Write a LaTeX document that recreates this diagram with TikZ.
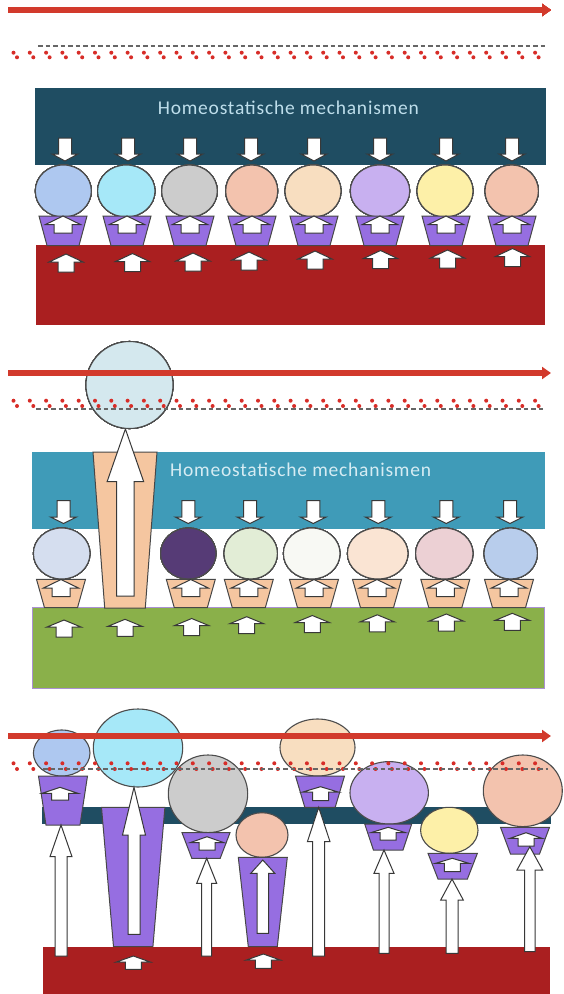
\documentclass[tikz,border=0pt]{standalone}
\usepackage{fontspec}
\newfontfamily\carlito{Carlito}[LetterSpace=4.0]
\usepackage{tikz}
\usetikzlibrary{arrows.meta}

\definecolor{deepteal}{RGB}{31,77,98}
\definecolor{lightteal}{RGB}{63,155,184}
\definecolor{boxred}{RGB}{170,31,32}
\definecolor{arrowred}{RGB}{210,58,44}
\definecolor{dotred}{RGB}{215,45,40}
\definecolor{potpurple}{RGB}{150,110,225}
\definecolor{potpeach}{RGB}{245,198,160}
\definecolor{grassgreen}{RGB}{138,176,74}
\definecolor{lilac}{RGB}{170,145,210}
\definecolor{ballblue}{RGB}{174,200,240}
\definecolor{ballcyan}{RGB}{166,232,248}
\definecolor{ballgray}{RGB}{204,204,204}
\definecolor{ballsalmon}{RGB}{243,195,174}
\definecolor{ballpeach}{RGB}{248,222,192}
\definecolor{balllav}{RGB}{200,176,240}
\definecolor{ballyellow}{RGB}{253,240,168}
\definecolor{bigblue}{RGB}{212,232,238}
\definecolor{paleblue}{RGB}{213,222,239}
\definecolor{darkplum}{RGB}{86,59,118}
\definecolor{palegreen}{RGB}{226,237,214}
\definecolor{offwhite}{RGB}{248,249,244}
\definecolor{palepeach}{RGB}{250,228,211}
\definecolor{palerose}{RGB}{236,208,212}
\definecolor{softblue}{RGB}{184,205,236}
\definecolor{textA}{RGB}{190,222,235}
\definecolor{textB}{RGB}{214,236,243}

% block arrows: x, y tip, y base, half shaft, half head, head length
\newcommand{\uparr}[6]{\draw[blockarr] (#1-#4,#3) -- (#1-#4,#2+#6) -- (#1-#5,#2+#6) -- (#1,#2) -- (#1+#5,#2+#6) -- (#1+#4,#2+#6) -- (#1+#4,#3) -- cycle;}
\newcommand{\downarr}[6]{\draw[blockarr] (#1-#4,#2) -- (#1-#4,#3-#6) -- (#1-#5,#3-#6) -- (#1,#3) -- (#1+#5,#3-#6) -- (#1+#4,#3-#6) -- (#1+#4,#2) -- cycle;}
% pot: x, y top, y bottom, half top, half bottom, colour
\newcommand{\pot}[6]{\draw[potline, fill=#6] (#1-#4,#2) -- (#1+#4,#2) -- (#1+#5,#3) -- (#1-#5,#3) -- cycle;}

\begin{document}
\begin{tikzpicture}[x=1pt,y=-1pt,
  blockarr/.style={draw=black!78, fill=white, line width=1pt, line join=miter},
  potline/.style={draw=black!72, line width=1pt},
  ball/.style={draw=black!70, line width=1.1pt},
  redline/.style={arrowred, line width=5.5pt, -{Triangle[length=9pt,width=12pt]}},
  graydash/.style={black!60, line width=2pt, dash pattern=on 4.5pt off 3pt},
  reddots/.style={dotred, line width=4pt, line cap=round, dash pattern=on 0pt off 16.3pt},
  homeo/.style={font=\carlito\fontsize{19.5}{22}\selectfont, anchor=base west, inner sep=0pt}]
\useasboundingbox (0,0) rectangle (564,994);

% ==================== PANEL 1: BALANCE ====================
\fill[deepteal] (35,87.5) rectangle (545.5,164.5);
\node[homeo, textA] (homeoA) at (157.7,114.3) {Homeostatische mechanismen};
\fill[boxred] (35.5,245) rectangle (545,325);
% pressure from above
\foreach \x in {65,128,190,251,314,380,446,512}
  \downarr{\x}{138}{161}{6.5}{13}{7}
% balls
\foreach \x/\rx/\col in {63.3/28/ballblue, 126.3/28.7/ballcyan, 189.5/27.8/ballgray, 251.7/26/ballsalmon,
    313/28/ballpeach, 380/29.7/balllav, 445/28/ballyellow, 511.7/26.7/ballsalmon}
  \draw[ball, fill=\col] (\x,191) ellipse [x radius=\rx pt, y radius=26pt];
% pots with push
\foreach \x in {63,127,190,252,314,380,446,512} {
  \pot{\x}{216}{245.5}{24}{16}{potpurple}
  \uparr{\x}{216}{233}{9}{17.5}{8.5}
}
% push from below
\foreach \x/\t in {66/254, 132.5/253.5, 193/253, 249/252, 315/251, 380.5/250.5, 447.5/250, 512.5/248.5}
  \uparr{\x}{\t}{\t+18}{8}{17}{8}
% lines
\draw[redline] (8,10) -- (551,10);
\draw[graydash] (38,46) -- (545,46);
\draw[reddots] (13.5,52.7) -- (548,52.7);
\draw[reddots] (17,57.3) -- (548,57.3);

% ==================== PANEL 2: ONE OUTLIER ====================
\fill[lightteal] (31.7,451.7) rectangle (544.7,529.3);
\node[homeo, textB] (homeoB) at (170,476) {Homeostatische mechanismen};
\filldraw[fill=grassgreen, draw=lilac, line width=1pt] (32.3,607) rectangle (544.3,688.3);
% tall pot
\pot{125}{452}{608}{32}{20.3}{potpeach}
\uparr{125.4}{429}{596}{8.7}{18.3}{52.7}
\foreach \x in {63.5,188.3,250,313.3,378.3,446.3,510}
  \downarr{\x}{500.7}{523.5}{6.5}{13}{6.5}
\foreach \x/\rx/\col in {61.7/28.3/paleblue, 188.3/27.7/darkplum, 250.7/26.7/palegreen, 311.7/28.3/offwhite,
    377.7/30.3/palepeach, 444.3/28.7/palerose, 510.7/26.7/softblue}
  \draw[ball, fill=\col] (\x,553.5) ellipse [x radius=\rx pt, y radius=25.5pt];
\foreach \x in {61,190.8,248.8,314,377,445.3,509} {
  \pot{\x}{579.3}{607.7}{24.5}{16.5}{potpeach}
  \uparr{\x}{579.5}{596.5}{9}{17.5}{8.5}
}
\foreach \x/\t in {64/620, 125/619.3, 191.7/618.5, 246.7/616.7, 312.3/615.5, 377.3/614.8, 446.3/614, 512.3/613.3}
  \uparr{\x}{\t}{\t+17}{8}{17}{7}
\draw[ball, fill=bigblue] (129.5,385) circle [radius=43.5pt];
\draw[redline] (8,373) -- (551,373);
\draw[reddots] (13.5,400.7) -- (548,400.7);
\draw[reddots] (17,406) -- (548,406);
\draw[graydash] (36,409) -- (543,409);

% ==================== PANEL 3: ALL OVER THE PLACE ====================
\fill[deepteal] (41.7,806.7) rectangle (550.7,824);
\fill[boxred] (43.3,946.7) rectangle (550,994);
% 1
\draw[ball, fill=ballblue] (61.7,753) ellipse [x radius=28.3pt, y radius=23pt];
\pot{63}{776}{825}{24.5}{17}{potpurple}
\uparr{60}{787.3}{800}{8.5}{18}{6}
\uparr{61}{825}{956}{6}{11}{31.7}
% 2
\draw[ball, fill=ballcyan] (138,748) ellipse [x radius=44.7pt, y radius=39pt];
\pot{133.2}{807.3}{946.7}{31.7}{19.7}{potpurple}
\uparr{134}{787.3}{934.3}{6}{11.5}{47.7}
\uparr{133.3}{956}{969.3}{8}{17}{6}
% 3
\draw[ball, fill=ballgray] (208,793.8) ellipse [x radius=39.7pt, y radius=38.8pt];
\pot{206}{832.7}{858.3}{24}{14.2}{potpurple}
\uparr{207}{836.7}{850}{8}{17}{6}
\uparr{206.7}{858.3}{956}{5}{10}{25}
% 4
\draw[ball, fill=ballsalmon] (262,835) ellipse [x radius=26pt, y radius=22.3pt];
\pot{262.8}{857.3}{946.7}{24.5}{14.5}{potpurple}
\uparr{262.8}{860}{933.3}{5.8}{12}{13.3}
\uparr{263.3}{954}{968.3}{8}{17}{6}
% 5
\draw[ball, fill=ballpeach] (317.5,747.5) ellipse [x radius=37.5pt, y radius=28.5pt];
\pot{320}{776}{807.3}{24.5}{15.2}{potpurple}
\uparr{320.5}{786.7}{800.7}{8}{18.3}{5.5}
\uparr{318.7}{807.3}{956}{6}{11.3}{34.4}
% 6
\draw[ball, fill=balllav] (389.2,792.8) ellipse [x radius=39.2pt, y radius=31.2pt];
\pot{388.2}{824}{850}{23.5}{14.8}{potpurple}
\uparr{388.2}{827.3}{840}{8}{17.5}{5.4}
\uparr{384}{850}{953.3}{5}{10}{23.3}
% 7
\draw[ball, fill=ballyellow] (449.3,830.3) ellipse [x radius=28.7pt, y radius=23pt];
\pot{452.7}{853.3}{879}{24.7}{14.7}{potpurple}
\uparr{452.3}{858.3}{871.7}{8}{16.7}{5}
\uparr{452}{879}{953.3}{6}{11.3}{21}
% 8
\draw[ball, fill=ballsalmon] (522.8,790.8) ellipse [x radius=39.5pt, y radius=35.8pt];
\pot{525}{827.3}{854}{24.5}{14.5}{potpurple}
\uparr{526}{832.7}{846}{8}{16}{5.6}
\uparr{529.8}{846.7}{951.7}{5.2}{12.8}{23.3}
% lines
\draw[redline] (8,736) -- (551,736);
\draw[reddots] (13.5,763.3) -- (548,763.3);
\draw[reddots] (17,769) -- (548,769);
\draw[graydash] (43,769.3) -- (548,769.3);
\end{tikzpicture}
\end{document}
